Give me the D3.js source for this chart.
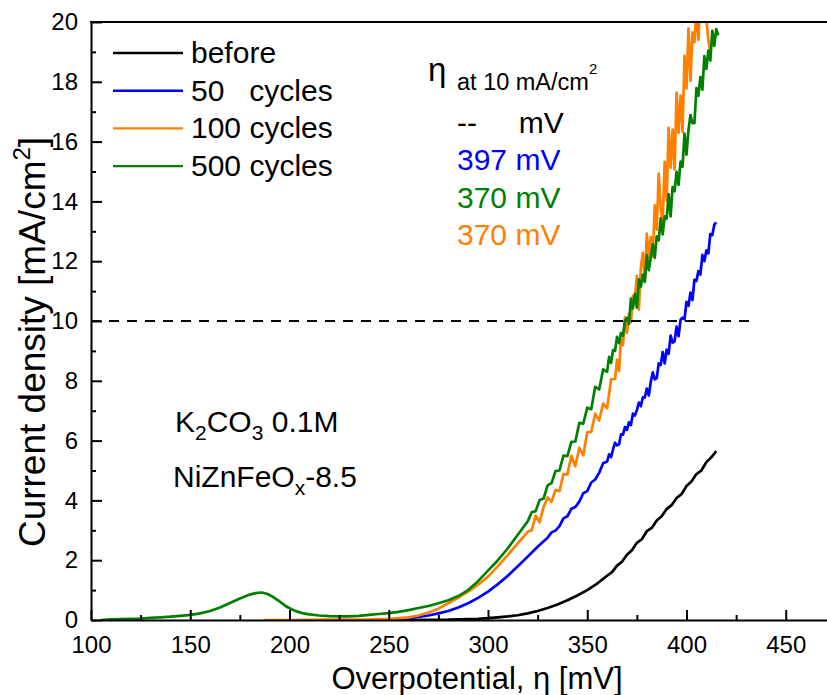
<!DOCTYPE html>
<html>
<head>
<meta charset="utf-8">
<script src="https://cdn.jsdelivr.net/npm/d3@7"></script>
<style>
  body { margin: 0; background: #fff; }
  text { font-family: "Liberation Sans", Arial, sans-serif; fill: #000; }
</style>
</head>
<body>
<svg id="chart" width="827" height="695"></svg>
<script>
// ---- data ----
const xMajorTicks = [100, 150, 200, 250, 300, 350, 400, 450];
const xMinorTicks = [125, 175, 225, 275, 325, 375, 425];
const yMajorTicks = [0, 2, 4, 6, 8, 10, 12, 14, 16, 18, 20];
const yMinorTicks = [1, 3, 5, 7, 9, 11, 13, 15, 17, 19];

const seriesNames = ["before", "50   cycles", "100 cycles", "500 cycles"];
const seriesColors = ["#000000", "#0000ff", "#ff8000", "#008000"];
const etaLabels = ["--     mV", "397 mV", "370 mV", "370 mV"];
const etaColors = ["#000000", "#0000ff", "#008000", "#ff8000"];
const referenceCurrent = 10;       // mA/cm2, dashed guide
const referenceSpan = [100, 432];  // mV

// overpotential (mV), current density (mA/cm2)
const before = [[240,0],[260,0],[280,0.01],[285,0.02],[290,0.03],[295,0.04],[300,0.06],[305,0.09],[310,0.12],[315,0.16],[320,0.22],[325,0.3],[330,0.4],[335,0.52],[340,0.66],[345,0.82],[350,1.0],[355,1.22],[360,1.48],[362.5,1.6],[365,1.82],[367.5,1.95],[370,2.18],[372.5,2.33],[375,2.58],[377.5,2.7],[380,2.97],[382.5,3.08],[385,3.33],[387.5,3.47],[390,3.71],[392.5,3.84],[395,4.08],[397.5,4.21],[400,4.48],[402.5,4.63],[405,4.88],[407.5,5.0],[410,5.28],[412.5,5.44],[415,5.65]];

const cycles50 = [[250,0],[255,0.03],[260,0.06],[265,0.1],[270,0.15],[275,0.22],[280,0.3],[285,0.42],[290,0.56],[295,0.74],[300,0.95],[305,1.2],[310,1.48],[315,1.8],[320,2.12],[325,2.45],[330,2.75],[332,2.93],[334,2.99],[336,3.14],[338,3.4],[340,3.47],[342,3.72],[344,3.78],[346,3.96],[348,4.24],[350,4.31],[352,4.6],[354,4.7],[356,4.92],[358,5.24],[360,5.3],[361,5.54],[362,5.45],[363,5.71],[364,5.93],[365,5.84],[366,5.87],[367,6.21],[368,6.2],[369,6.45],[370,6.36],[371,6.61],[372,6.52],[373,6.9],[374,6.84],[375,7.02],[376,7.27],[377,7.15],[378,7.45],[379,7.44],[380,7.74],[381,7.51],[382,7.97],[383,8.28],[384,8.05],[385,8.09],[386,8.58],[387,8.53],[388,8.96],[389,8.58],[390,9.04],[391,8.9],[392,9.51],[393,9.28],[394,9.32],[395,9.81],[396,9.49],[397,10.04],[398,10.11],[399,10.06],[400,10.64],[401,10.51],[402,10.95],[403,10.7],[404,11.38],[405,11.34],[406,11.67],[407,11.55],[408,12.21],[409,12.0],[410,12.36],[411,12.26],[412,12.91],[413,12.87],[414,13.22],[415,13.3]];

const cycles100 = [[187,0],[200,0],[220,0.01],[240,0.02],[250,0.04],[255,0.06],[260,0.09],[265,0.15],[270,0.25],[275,0.38],[280,0.56],[285,0.75],[290,0.95],[295,1.18],[300,1.45],[305,1.8],[310,2.18],[315,2.56],[320,2.95],[322,3.0],[324,3.49],[326,3.27],[328,3.78],[330,4.1],[332,3.95],[334,4.35],[336,4.31],[338,4.88],[340,4.87],[342,5.49],[344,5.14],[346,5.76],[348,5.51],[350,6.28],[352,6.29],[354,6.9],[356,6.67],[358,7.24],[360,7.08],[362,8.05],[364,8.06],[365,8.7],[366,8.33],[367,9.41],[368,9.19],[369,10.12],[370,9.6],[371,10.23],[372,9.96],[373,10.84],[374,10.77],[375,11.5],[376,10.38],[377,11.78],[378,12.28],[379,11.34],[380,12.92],[381,12.1],[382,12.81],[383,12.17],[384,13.87],[385,13.05],[386,14.93],[387,13.76],[388,13.24],[389,15.32],[390,14.02],[391,16.46],[392,15.13],[393,16.4],[394,15.07],[395,17.64],[396,16.29],[397,17.54],[398,16.32],[399,18.87],[400,17.78],[401,19.79],[402,18.03],[403,19.65],[404,19.32],[405,20.38],[406,19.4],[407,20.74],[408,20.08],[409,21.42],[410,20.1],[411,19.4],[412,19.0]];

const cycles500 = [[105,0],[110,0.02],[115,0.03],[120,0.04],[125,0.05],[130,0.07],[135,0.09],[140,0.11],[145,0.14],[150,0.17],[155,0.22],[160,0.3],[165,0.42],[170,0.57],[175,0.72],[180,0.85],[183,0.9],[186,0.92],[189,0.87],[192,0.76],[195,0.62],[198,0.47],[201,0.36],[204,0.28],[207,0.22],[210,0.19],[215,0.15],[220,0.13],[225,0.12],[230,0.12],[235,0.14],[240,0.17],[245,0.2],[250,0.23],[255,0.27],[260,0.33],[265,0.4],[270,0.47],[275,0.56],[280,0.66],[285,0.8],[290,1.0],[295,1.3],[300,1.65],[305,2.0],[310,2.4],[315,2.85],[320,3.3],[322,3.6],[324,3.64],[326,4.01],[328,4.06],[330,4.5],[332,4.58],[334,4.98],[336,5.0],[338,5.5],[340,5.48],[342,5.96],[344,5.97],[346,6.59],[348,6.57],[350,7.1],[352,7.05],[354,7.8],[356,7.71],[358,8.38],[360,8.3],[361,8.8],[362,8.6],[363,9.03],[364,9.0],[365,9.47],[366,9.26],[367,9.6],[368,9.51],[369,10.01],[370,10.1],[371,9.9],[372,10.75],[373,10.42],[374,10.91],[375,10.45],[376,11.39],[377,11.15],[378,11.55],[379,11.31],[380,12.2],[381,11.7],[382,12.11],[383,12.56],[384,12.11],[385,12.83],[386,12.7],[387,13.43],[388,12.9],[389,13.5],[390,13.42],[391,14.24],[392,13.5],[393,14.48],[394,14.34],[395,14.99],[396,14.55],[397,15.33],[398,15.16],[399,16.27],[400,15.56],[401,16.39],[402,16.89],[403,16.62],[404,16.62],[405,17.79],[406,17.53],[407,18.16],[408,17.73],[409,18.86],[410,18.43],[411,19.04],[412,18.71],[413,19.7],[414,19.2],[415,19.76],[416,19.55]];

const seriesData = [before, cycles50, cycles100, cycles500];

// ---- layout ----
const svg = d3.select("#chart");
const plot = { left: 91, top: 22, bottom: 620 };

const x = d3.scaleLinear().domain([100, 500]).range([plot.left, 885]);
const y = d3.scaleLinear().domain([0, 20]).range([plot.bottom, plot.top]);

svg.append("defs").append("clipPath").attr("id", "plotClip")
  .append("rect")
  .attr("x", plot.left).attr("y", plot.top)
  .attr("width", 885 - plot.left).attr("height", plot.bottom - plot.top);

// ---- curves ----
const line = d3.line().x(d => x(d[0])).y(d => y(d[1]));
const curves = svg.append("g").attr("clip-path", "url(#plotClip)");
seriesData.forEach((data, i) => {
  curves.append("path")
    .datum(data)
    .attr("d", line)
    .attr("fill", "none")
    .attr("stroke", seriesColors[i])
    .attr("stroke-width", 2.7)
    .attr("stroke-linejoin", "round");
});

// dashed 10 mA/cm2 guide
svg.append("line")
  .attr("x1", x(referenceSpan[0])).attr("x2", x(referenceSpan[1]))
  .attr("y1", y(referenceCurrent)).attr("y2", y(referenceCurrent))
  .attr("stroke", "#000").attr("stroke-width", 2)
  .attr("stroke-dasharray", "10,8");

// ---- axes ----
function styleAxis(g) {
  g.selectAll("line").attr("stroke", "#000").attr("stroke-width", 2);
  g.selectAll("path.domain").attr("stroke", "#000").attr("stroke-width", 2);
  g.selectAll("text").attr("font-size", 24).attr("fill", "#000")
    .attr("font-family", "'Liberation Sans', Arial, sans-serif");
}

svg.append("g")
  .attr("transform", `translate(0,${plot.bottom})`)
  .call(d3.axisBottom(x).tickValues(xMinorTicks).tickSizeInner(-5).tickSizeOuter(0).tickFormat(""))
  .call(g => g.select(".domain").remove())
  .call(styleAxis);

svg.append("g")
  .attr("transform", `translate(0,${plot.bottom})`)
  .call(d3.axisBottom(x).tickValues(xMajorTicks).tickSizeInner(-10).tickSizeOuter(0).tickPadding(16).tickFormat(d3.format("d")))
  .call(styleAxis);

svg.append("g")
  .attr("transform", `translate(${plot.left},0)`)
  .call(d3.axisLeft(y).tickValues(yMinorTicks).tickSizeInner(-5).tickSizeOuter(0).tickFormat(""))
  .call(g => g.select(".domain").remove())
  .call(styleAxis);

svg.append("g")
  .attr("transform", `translate(${plot.left},0)`)
  .call(d3.axisLeft(y).tickValues(yMajorTicks).tickSizeInner(-11).tickSizeOuter(0).tickPadding(13).tickFormat(d3.format("d")))
  .call(styleAxis);

// top frame line
svg.append("line")
  .attr("x1", plot.left - 1).attr("x2", 885)
  .attr("y1", plot.top).attr("y2", plot.top)
  .attr("stroke", "#000").attr("stroke-width", 2);

// ---- axis titles ----
svg.append("text")
  .attr("x", 477).attr("y", 689)
  .attr("text-anchor", "middle")
  .attr("font-size", 31)
  .text("Overpotential, \u03b7 [mV]");

const yTitle = svg.append("text")
  .attr("transform", "translate(45,342) rotate(-90)")
  .attr("text-anchor", "middle")
  .attr("font-size", 37);
yTitle.append("tspan").text("Current density [mA/cm");
yTitle.append("tspan").attr("dy", -15).attr("font-size", 24).text("2");
yTitle.append("tspan").attr("dy", 15).text("]");

// ---- legend ----
const legend = svg.append("g");
seriesNames.forEach((name, i) => {
  const ly = 53 + i * 37.7;
  legend.append("line")
    .attr("x1", 113).attr("x2", 183)
    .attr("y1", ly).attr("y2", ly)
    .attr("stroke", seriesColors[i]).attr("stroke-width", 2.4);
  legend.append("text")
    .attr("x", 191).attr("y", ly + 10)
    .attr("font-size", 30)
    .style("white-space", "pre")
    .text(name);
});

// ---- overpotential at 10 mA/cm2 ----
svg.append("text").attr("x", 428).attr("y", 81).attr("font-size", 33).text("\u03b7");
const etaHead = svg.append("text").attr("x", 457).attr("y", 90).attr("font-size", 23.5);
etaHead.append("tspan").text("at 10 mA/cm");
etaHead.append("tspan").attr("dy", -16).attr("font-size", 15).text("2");

etaLabels.forEach((lbl, i) => {
  svg.append("text")
    .attr("x", 457).attr("y", 132.5 + i * 37.5)
    .attr("font-size", 30)
    .style("white-space", "pre")
    .style("fill", etaColors[i])
    .text(lbl);
});

// ---- sample description ----
const electrolyte = svg.append("text").attr("x", 175).attr("y", 432).attr("font-size", 30);
electrolyte.append("tspan").text("K");
electrolyte.append("tspan").attr("dy", 8).attr("font-size", 21).text("2");
electrolyte.append("tspan").attr("dy", -8).text("CO");
electrolyte.append("tspan").attr("dy", 8).attr("font-size", 21).text("3");
electrolyte.append("tspan").attr("dy", -8).style("white-space", "pre").text(" 0.1M");

const catalyst = svg.append("text").attr("x", 173).attr("y", 487).attr("font-size", 30);
catalyst.append("tspan").text("NiZnFeO");
catalyst.append("tspan").attr("dy", 8).attr("font-size", 21).text("x");
catalyst.append("tspan").attr("dy", -8).text("-8.5");
</script>
</body>
</html>
